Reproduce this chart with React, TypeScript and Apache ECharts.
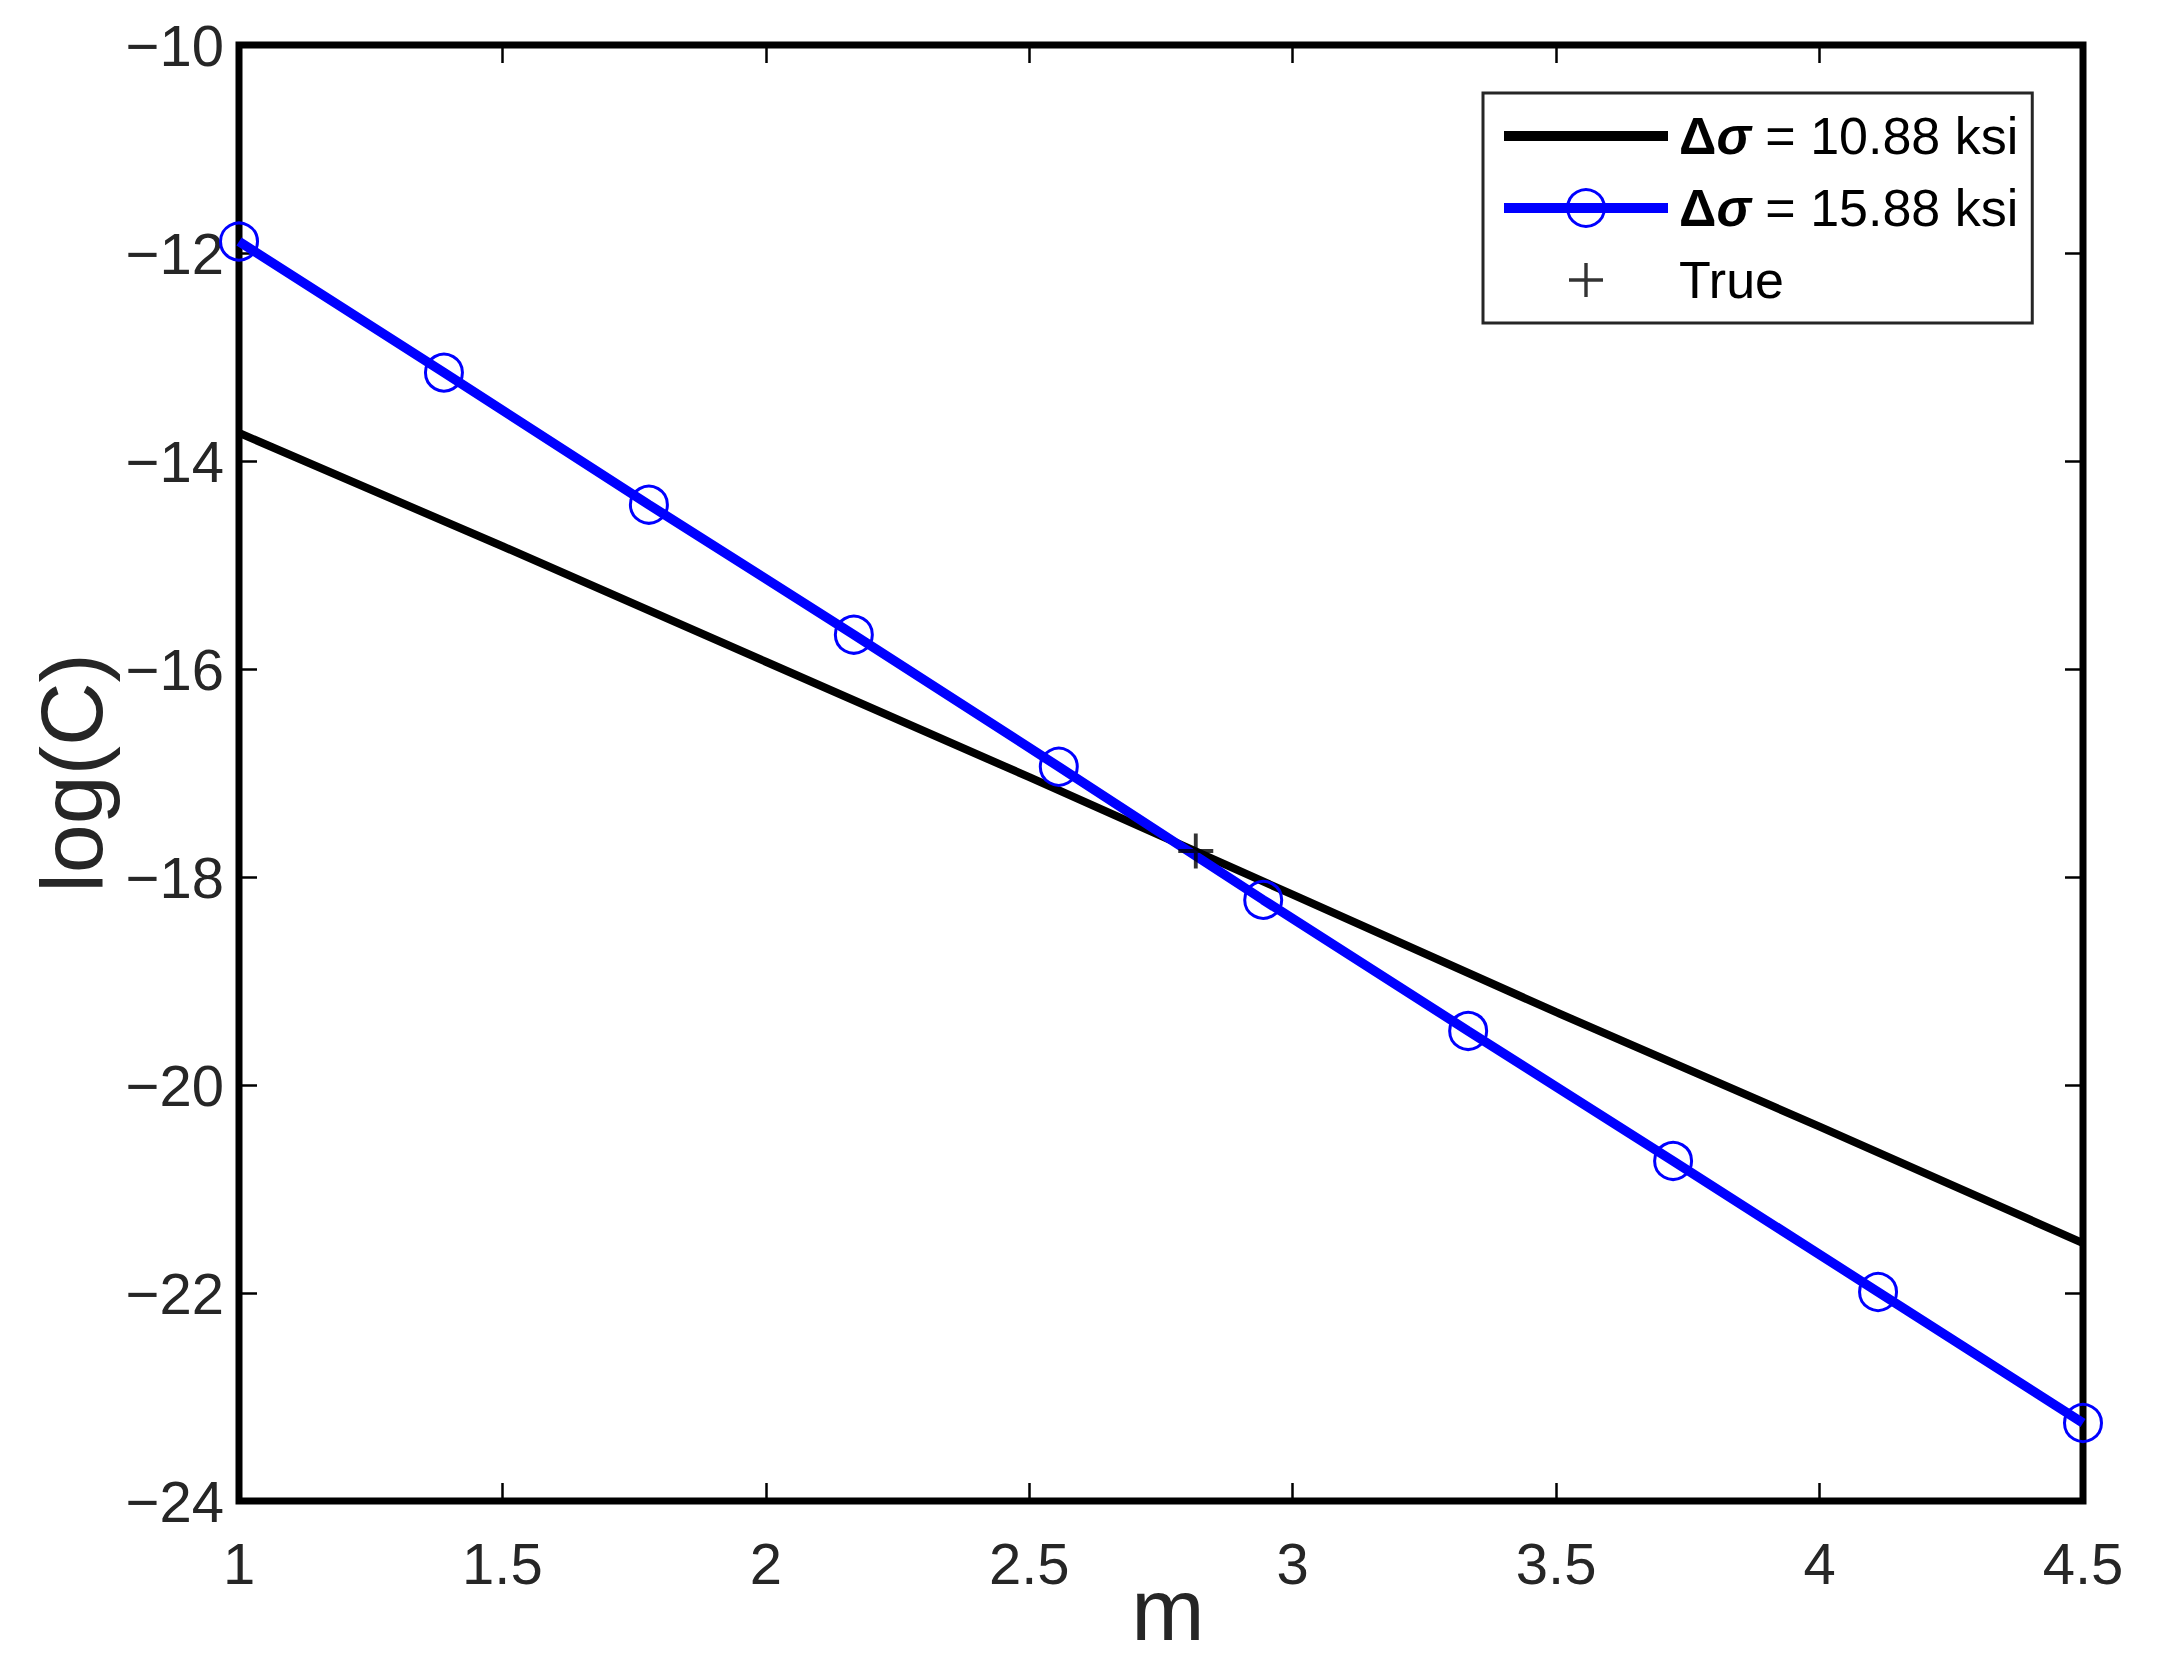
import React, { useEffect, useRef } from "react";
import * as echarts from "echarts";

const blackName = "Δσ = 10.88 ksi";
const blueName = "Δσ = 15.88 ksi";
const trueName = "True";

const blackM = [1, 1.5, 2, 2.5, 3, 3.5, 4, 4.5];
const blackLogC = [-13.73, -14.82, -15.93, -17.04, -18.17, -19.3, -20.4, -21.52];

const blueM = [1, 1.389, 1.778, 2.167, 2.556, 2.944, 3.333, 3.722, 4.111, 4.5];
const blueLogC = [-11.89, -13.15, -14.42, -15.67, -16.94, -18.22, -19.48, -20.73, -21.99, -23.25];

const trueM = [2.816];
const trueLogC = [-17.75];

const xMin = 1;
const xMax = 4.5;
const xStep = 0.5;
const yMin = -24;
const yMax = -10;
const yStep = 2;

const FONT = "'Liberation Sans', Arial, Helvetica, sans-serif";
const TEXT = "#262626";
const PLUS = "path://M4.45,0H5.55V4.45H10V5.55H5.55V10H4.45V5.55H0V4.45H4.45Z";
const PLUS_LEGEND =
  "path://M0,0Z M6,21.3H40V24.7H6Z M21.3,6H24.7V40H21.3Z M46,46Z";

const fmtNum = (v: number) => (v < 0 ? "\u2212" + String(Math.abs(v)) : String(v));

export default function App() {
  const ref = useRef<HTMLDivElement>(null);
  useEffect(() => {
    if (!ref.current) return;
    const chart = echarts.init(ref.current, undefined, { renderer: "svg" });
    const tick = { show: true, inside: true, length: 18, lineStyle: { color: "#000", width: 2.5 } };
    chart.setOption({
      animation: false,
      backgroundColor: "#fff",
      grid: {
        left: 239,
        top: 45,
        right: 95,
        bottom: 171,
        show: true,
        borderColor: "#000",
        borderWidth: 7,
        backgroundColor: "#fff",
      },
      legend: {
        orient: "vertical",
        left: 1483,
        top: 93,
        padding: [17, 14, 17, 16],
        itemWidth: 164,
        itemHeight: 46,
        itemGap: 20,
        backgroundColor: "#fff",
        borderColor: "#262626",
        borderWidth: 3,
        selectedMode: false,
        lineStyle: { width: 10 },
        itemStyle: { borderWidth: 3 },
        data: [blackName, blueName, { name: trueName, icon: PLUS_LEGEND }],
        formatter: (name: string) =>
          name.startsWith("Δσ") ? "{b|Δ}{bi|σ}" + name.slice(2) : name,
        textStyle: {
          fontFamily: FONT,
          fontSize: 52,
          color: "#000",
          lineHeight: 50,
          padding: [0, 0, 0, 6],
          rich: {
            b: { fontFamily: FONT, fontSize: 52, fontWeight: "bold", color: "#000", lineHeight: 50 },
            bi: {
              fontFamily: FONT,
              fontSize: 52,
              fontWeight: "bold",
              fontStyle: "italic",
              color: "#000",
              lineHeight: 50,
            },
          },
        },
      },
      xAxis: [
        {
          type: "value",
          min: xMin,
          max: xMax,
          interval: xStep,
          position: "bottom",
          name: "m",
          nameLocation: "middle",
          nameGap: 64,
          nameMoveOverlap: false,
          nameTextStyle: { fontFamily: FONT, fontSize: 88, color: TEXT, padding: [0, 0, 0, 14] },
          axisLine: { show: false },
          axisTick: tick,
          splitLine: { show: false },
          axisLabel: {
            margin: 33,
            fontFamily: FONT,
            fontSize: 58,
            color: TEXT,
            formatter: fmtNum,
          },
        },
        {
          type: "value",
          min: xMin,
          max: xMax,
          interval: xStep,
          position: "top",
          axisLine: { show: false },
          axisTick: tick,
          splitLine: { show: false },
          axisLabel: { show: false },
        },
      ],
      yAxis: [
        {
          type: "value",
          min: yMin,
          max: yMax,
          interval: yStep,
          position: "left",
          name: "log(C)",
          nameLocation: "middle",
          nameGap: 124,
          nameMoveOverlap: false,
          nameTextStyle: { fontFamily: FONT, fontSize: 88, color: TEXT },
          axisLine: { show: false },
          axisTick: tick,
          splitLine: { show: false },
          axisLabel: {
            margin: 15,
            fontFamily: FONT,
            fontSize: 58,
            color: TEXT,
            formatter: fmtNum,
          },
        },
        {
          type: "value",
          min: yMin,
          max: yMax,
          interval: yStep,
          position: "right",
          axisLine: { show: false },
          axisTick: tick,
          splitLine: { show: false },
          axisLabel: { show: false },
        },
      ],
      series: [
        {
          name: blackName,
          type: "line",
          data: blackM.map((m, i) => [m, blackLogC[i]]),
          symbol: "none",
          itemStyle: { color: "rgba(0,0,0,0)" },
          lineStyle: { color: "#000", width: 8 },
          z: 2,
        },
        {
          name: blueName,
          type: "line",
          data: blueM.map((m, i) => [m, blueLogC[i]]),
          symbol: "circle",
          symbolSize: 37,
          showAllSymbol: true,
          itemStyle: { color: "rgba(0,0,0,0)", borderColor: "#0000ff", borderWidth: 3 },
          lineStyle: { color: "#0000ff", width: 9.5 },
          z: 3,
        },
        {
          name: trueName,
          type: "scatter",
          data: trueM.map((m, i) => [m, trueLogC[i]]),
          symbol: PLUS,
          symbolSize: 35,
          itemStyle: { color: "#000" },
          z: 4,
        },
      ],
    });
    return () => chart.dispose();
  }, []);
  return (
    <div
      ref={ref}
      style={{ position: "absolute", left: 0, top: 0, width: 2178, height: 1672, background: "#fff" }}
    />
  );
}
